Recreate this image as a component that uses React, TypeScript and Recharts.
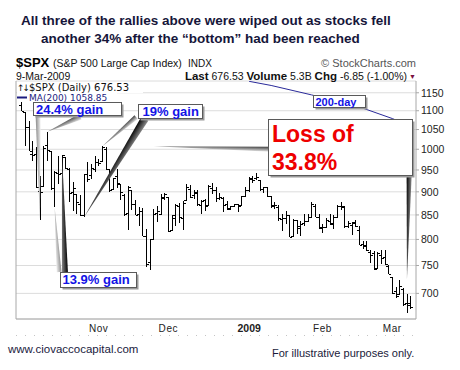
import { Bar, CartesianGrid, ComposedChart, Line, ReferenceLine, XAxis, YAxis } from 'recharts'

// trading days, 3-Oct-2008 .. 9-Mar-2009
const dates = [
  '2008-10-03', '2008-10-06', '2008-10-07', '2008-10-08', '2008-10-09', '2008-10-10', '2008-10-13', '2008-10-14', '2008-10-15', '2008-10-16',
  '2008-10-17', '2008-10-20', '2008-10-21', '2008-10-22', '2008-10-23', '2008-10-24', '2008-10-27', '2008-10-28', '2008-10-29', '2008-10-30', '2008-10-31',
  '2008-11-03', '2008-11-04', '2008-11-05', '2008-11-06', '2008-11-07', '2008-11-10', '2008-11-11', '2008-11-12', '2008-11-13', '2008-11-14',
  '2008-11-17', '2008-11-18', '2008-11-19', '2008-11-20', '2008-11-21', '2008-11-24', '2008-11-25', '2008-11-26', '2008-11-28',
  '2008-12-01', '2008-12-02', '2008-12-03', '2008-12-04', '2008-12-05', '2008-12-08', '2008-12-09', '2008-12-10', '2008-12-11', '2008-12-12',
  '2008-12-15', '2008-12-16', '2008-12-17', '2008-12-18', '2008-12-19', '2008-12-22', '2008-12-23', '2008-12-24', '2008-12-26', '2008-12-29', '2008-12-30', '2008-12-31',
  '2009-01-02', '2009-01-05', '2009-01-06', '2009-01-07', '2009-01-08', '2009-01-09', '2009-01-12', '2009-01-13', '2009-01-14', '2009-01-15',
  '2009-01-16', '2009-01-20', '2009-01-21', '2009-01-22', '2009-01-23', '2009-01-26', '2009-01-27', '2009-01-28', '2009-01-29', '2009-01-30',
  '2009-02-02', '2009-02-03', '2009-02-04', '2009-02-05', '2009-02-06', '2009-02-09', '2009-02-10', '2009-02-11', '2009-02-12', '2009-02-13',
  '2009-02-17', '2009-02-18', '2009-02-19', '2009-02-20', '2009-02-23', '2009-02-24', '2009-02-25', '2009-02-26', '2009-02-27',
  '2009-03-02', '2009-03-03', '2009-03-04', '2009-03-05', '2009-03-06', '2009-03-09',
]

const opens = [
  1115.2, 1097.6, 1057.0, 988.9, 988.4, 902.3, 912.8, 1009.97, 994.5, 909.5, 942.3, 943.5, 980.4, 951.7, 899.1, 895.1, 874.3, 848.9, 939.5, 939.4, 953.1,
  968.7, 971.3, 1001.8, 951.2, 907.4, 936.8, 917.0, 893.4, 853.1, 904.0, 873.2, 852.3, 859.0, 805.9, 755.8, 801.2, 853.4, 852.9, 886.9,
  888.6, 817.9, 843.6, 869.8, 844.4, 883.0, 906.5, 892.2, 898.4, 871.8, 881.1, 871.5, 908.2, 905.0, 886.96, 887.2, 874.3, 863.9, 869.5, 872.4, 870.6, 890.6,
  902.99, 929.2, 931.2, 927.5, 905.7, 909.9, 890.4, 869.8, 867.3, 841.99, 844.45, 849.6, 806.8, 839.7, 822.2, 832.5, 837.3, 845.7, 868.9, 845.7,
  823.1, 825.7, 837.8, 831.8, 846.1, 868.2, 866.9, 827.4, 829.9, 833.95, 818.6, 791.1, 787.9, 775.9, 773.25, 744.7, 770.6, 765.8, 749.9,
  729.6, 704.4, 699.0, 708.3, 684.0, 680.8,
]

const highs = [
  1153.8, 1097.6, 1072.9, 1021.1, 1005.3, 936.4, 1006.9, 1044.3, 994.5, 948.0, 984.4, 985.4, 980.4, 955.05, 922.8, 896.1, 893.8, 940.5, 969.97, 963.2, 984.4,
  975.1, 1007.5, 1005.4, 951.4, 931.8, 951.95, 917.1, 896.2, 913.0, 904.1, 882.3, 865.9, 864.6, 820.5, 801.2, 862.1, 868.9, 896.25, 896.8,
  888.6, 850.5, 873.1, 875.6, 879.4, 918.6, 916.3, 905.0, 904.6, 882.2, 884.7, 914.7, 918.9, 911.0, 897.8, 887.9, 880.4, 869.8, 873.0, 873.7, 891.1, 910.3,
  934.7, 936.6, 943.85, 927.5, 910.0, 911.9, 890.4, 877.0, 871.8, 851.6, 858.1, 849.6, 841.7, 839.7, 838.2, 852.5, 852.5, 877.9, 874.1, 851.6,
  830.8, 842.6, 851.85, 850.55, 870.75, 877.0, 868.05, 838.2, 835.9, 839.4, 826.8, 796.2, 797.6, 778.9, 777.5, 775.5, 780.1, 779.4, 751.3,
  729.6, 711.7, 724.1, 708.9, 699.6, 695.3,
]

const lows = [
  1098.1, 1007.97, 996.2, 970.97, 909.2, 839.8, 912.8, 972.1, 903.99, 865.8, 918.7, 943.0, 952.5, 877.0, 858.4, 852.9, 846.8, 845.3, 922.3, 928.9, 944.6,
  958.6, 971.0, 949.9, 899.7, 906.9, 907.5, 882.3, 848.6, 818.7, 859.4, 848.98, 826.8, 806.2, 747.8, 741.0, 798.0, 834.99, 852.0, 881.2,
  815.7, 817.9, 827.6, 833.99, 818.4, 883.0, 885.4, 883.5, 868.7, 851.4, 857.7, 868.6, 895.9, 877.4, 882.6, 857.1, 860.1, 861.4, 866.8, 857.1, 870.6, 889.9,
  899.35, 919.5, 927.3, 902.4, 896.8, 888.3, 864.3, 862.0, 836.9, 817.0, 830.7, 804.5, 804.3, 811.3, 806.1, 827.7, 834.5, 845.7, 844.9, 821.7,
  812.9, 821.98, 829.2, 819.9, 845.4, 860.7, 822.99, 822.1, 808.1, 825.2, 789.1, 780.4, 777.0, 754.3, 742.4, 743.3, 752.9, 751.75, 734.5,
  699.7, 692.3, 698.98, 677.9, 666.8, 672.9,
]

const closes = [
  1099.2, 1056.9, 996.2, 984.9, 909.9, 899.2, 1003.4, 998.0, 907.8, 946.4, 940.6, 985.4, 955.05, 896.8, 908.1, 876.8, 848.9, 940.5, 930.1, 954.1, 968.75,
  966.3, 1005.75, 952.8, 904.9, 930.99, 919.2, 898.95, 852.3, 911.3, 873.3, 850.75, 859.1, 806.6, 752.4, 800.0, 851.8, 857.4, 887.7, 896.2,
  816.2, 848.8, 870.7, 845.2, 876.1, 909.7, 888.7, 899.2, 873.6, 879.7, 868.6, 913.2, 904.4, 885.3, 887.9, 871.6, 863.2, 868.15, 872.8, 869.4, 890.6, 903.25,
  931.8, 927.45, 934.7, 906.65, 909.7, 890.35, 870.3, 871.8, 842.6, 843.7, 850.1, 805.2, 840.2, 827.5, 831.95, 836.6, 845.7, 874.1, 845.1, 825.9,
  825.4, 838.5, 832.2, 845.85, 868.6, 869.9, 827.2, 833.7, 835.2, 826.8, 789.2, 788.4, 778.9, 770.05, 743.3, 773.1, 764.9, 752.8, 735.1,
  700.8, 696.3, 712.9, 682.55, 683.4, 676.53,
]

// 200-day moving average (enters the panel at its top edge)
const maDates = ['2009-01-02', '2009-01-12', '2009-01-28', '2009-02-18', '2009-03-02', '2009-03-09']
const maValues = [1183, 1171, 1144, 1107, 1079, 1058.85]

const priceTicks = [700, 750, 800, 850, 900, 950, 1000, 1050, 1100, 1150]
const monthNames = ['2009', 'Feb', 'Mar', 'Apr', 'May', 'Jun', 'Jul', 'Aug', 'Sep', 'Oct', 'Nov', 'Dec']

const day = (s: string) => new Date(s + 'T00:00:00Z')

const rows = dates.map((d, i) => {
  const k = maDates.indexOf(d)
  return {
    i,
    range: [lows[i], highs[i]],
    open: opens[i],
    high: highs[i],
    low: lows[i],
    close: closes[i],
    ma: k >= 0 ? maValues[k] : null,
  }
})

const idx = dates.map((_, i) => i)
const monthStarts = idx.filter((i) => i > 0 && day(dates[i]).getUTCMonth() !== day(dates[i - 1]).getUTCMonth())
const weekStarts = idx.filter((i) => i > 0 && day(dates[i]).getUTCDay() <= day(dates[i - 1]).getUTCDay())

const xDomain = [-1.53, 107.47]
const FONT = '"Liberation Sans", Arial, sans-serif'

// callout pointers: tip on a bar, base under a label box (data coords)
const pointers = [
  { id: 'w1', tip: { x: 5, y: lows[5] }, base: { x: 4.5, y: 1086 }, w: 5, tone: 'light' },
  { id: 'w2', tip: { x: 7, y: highs[7] }, base: { x: 16, y: 1084 }, w: 6, tone: 'mid' },
  { id: 'w3', tip: { x: 22, y: highs[22] }, base: { x: 31.2, y: 1083 }, w: 5, tone: 'mid' },
  { id: 'w4', tip: { x: 17, y: lows[17] }, base: { x: 33.6, y: 1079 }, w: 8, tone: 'dark' },
  { id: 'w5', tip: { x: 9, y: lows[9] }, base: { x: 10.2, y: 738 }, w: 5, tone: 'light' },
  { id: 'w6', tip: { x: 11, y: highs[11] }, base: { x: 11.8, y: 738 }, w: 6, tone: 'dark' },
  { id: 'w7', tip: { x: 36, y: highs[22] }, base: { x: 68, y: 1000 }, w: 5, tone: 'mid' },
  { id: 'w8', tip: { x: 105, y: 725 }, base: { x: 105.6, y: 935 }, w: 5, tone: 'dark' },
]

const tones: Record<string, string[]> = {
  light: ['#8c8c8c', '#f4f4f4'],
  mid: ['#3c3c3c', '#e4e4e4'],
  dark: ['#000000', '#8a8a8a'],
}

function Wedge(props: any) {
  const { x1, y1, x2, y2, w, tone, gid } = props
  const dx = x2 - x1
  const dy = y2 - y1
  const len = Math.hypot(dx, dy) || 1
  const nx = ((-dy / len) * w) / 2
  const ny = ((dx / len) * w) / 2
  const [c0, c1] = tones[tone]
  return (
    <g>
      <defs>
        <linearGradient id={gid} gradientUnits="userSpaceOnUse" x1={x2 - nx} y1={y2 - ny} x2={x2 + nx} y2={y2 + ny}>
          <stop offset="0" stopColor={c0} />
          <stop offset="1" stopColor={c1} />
        </linearGradient>
      </defs>
      <polygon points={`${x1},${y1} ${x2 - nx},${y2 - ny} ${x2 + nx},${y2 + ny}`} fill={`url(#${gid})`} />
    </g>
  )
}

function OhlcBar(props: any) {
  const { x, y, width, height, payload } = props
  if (!payload || !Number.isFinite(y) || !Number.isFinite(height)) return null
  const cx = Math.round(x + width / 2) + 0.5
  const top = Math.log(payload.high)
  const span = top - Math.log(payload.low) || 1
  const at = (v: number) => Math.round(y + (height * (top - Math.log(v))) / span) + 0.5
  return (
    <g stroke="#000" strokeWidth={1} shapeRendering="crispEdges">
      <line x1={cx} x2={cx} y1={y} y2={y + height} strokeWidth={1.4} />
      <line x1={cx - 2.5} x2={cx} y1={at(payload.open)} y2={at(payload.open)} />
      <line x1={cx} x2={cx + 2.5} y1={at(payload.close)} y2={at(payload.close)} />
    </g>
  )
}

function MonthTick(props: any) {
  const { x, y, payload } = props
  const label = monthNames[day(dates[payload.value]).getUTCMonth()]
  const bold = label === '2009'
  return (
    <text x={x} y={y + 9.5} textAnchor="middle" fontSize={bold ? 10.5 : 10} fontWeight={bold ? 700 : 400}
      fill="#222" fontFamily={FONT} letterSpacing={bold ? 0 : 0.6}>
      {label}
    </text>
  )
}

function Box({ x, y, w, h }: { x: number; y: number; w: number; h: number }) {
  return (
    <g>
      <rect x={x + 2} y={y + 2} width={w} height={h} fill="#9a9a9a" />
      <rect x={x} y={y} width={w} height={h} fill="#fff" stroke="#5a5a5a" strokeWidth={1} />
    </g>
  )
}

function Overlay() {
  const blue = '#1212e6'
  return (
    <svg width={460} height={370} style={{ position: 'absolute', left: 0, top: 0, pointerEvents: 'none' }} fontFamily={FONT}>
      <text x={21} y={25} fontSize={13.5} fontWeight={700} fill="#16163a">
        All three of the rallies above were wiped out as stocks fell
      </text>
      <text x={41} y={43.3} fontSize={13.5} fontWeight={700} fill="#16163a">
        another 34% after the “bottom” had been reached
      </text>

      <text x={16} y={67} fontSize={13} fontWeight={700} fill="#000">$SPX</text>
      <text x={53} y={67} fontSize={10.5} fill="#111">(S&amp;P 500 Large Cap Index)</text>
      <text x={188} y={67} fontSize={10} fill="#111">INDX</text>
      <text x={416} y={67} fontSize={11} fill="#555" textAnchor="end">© StockCharts.com</text>
      <text x={16} y={79.5} fontSize={10.5} fill="#111">9-Mar-2009</text>
      <text x={407} y={79.5} textAnchor="end" fill="#111">
        <tspan fontSize={11.5} fontWeight={700}>Last</tspan>
        <tspan fontSize={10.5}> 676.53  </tspan>
        <tspan fontSize={11.5} fontWeight={700}>Volume</tspan>
        <tspan fontSize={10.5}> 5.3B  </tspan>
        <tspan fontSize={11.5} fontWeight={700}>Chg</tspan>
        <tspan fontSize={10.5}> -6.85 (-1.00%)</tspan>
      </text>
      <text x={409} y={79} fontSize={7} fill="#7a1040">▼</text>

      <rect x={17} y={83} width={126} height={10} fill="#fff" />
      <rect x={17} y={93} width={100} height={9} fill="#fff" />
      <text x={17} y={91} fontSize={9} fill="#111" fontFamily='"DejaVu Sans", sans-serif' letterSpacing={-2}>↑↓</text>
      <text x={29} y={91} fontSize={10} fill="#111" fontFamily='"DejaVu Sans", sans-serif'>$SPX (Daily) 676.53</text>
      <line x1={17} x2={27} y1={97.5} y2={97.5} stroke="#1c1c80" strokeWidth={2} />
      <text x={29} y={100.5} fontSize={9} fill="#1c1c80" fontFamily='"DejaVu Sans", sans-serif'>MA(200) 1058.85</text>

      <Box x={33.5} y={102.5} w={88} h={13} />
      <text x={36} y={113.5} fontSize={13} fontWeight={700} fill={blue}>24.4% gain</text>

      <Box x={138.5} y={104.5} w={64} h={14} />
      <text x={142.5} y={115.5} fontSize={13} fontWeight={700} fill={blue}>19% gain</text>

      <Box x={60.5} y={272.5} w={76} h={15} />
      <text x={62.5} y={284} fontSize={13} fontWeight={700} fill={blue}>13.9% gain</text>

      <Box x={313.5} y={95.5} w={52} h={12} />
      <text x={315.5} y={105.5} fontSize={11} fontWeight={700} fill={blue}>200-day</text>

      <Box x={268.5} y={119.5} w={144} h={56} />
      <text x={272} y={141.7} fontSize={23} fontWeight={700} fill="#ee0000">Loss of</text>
      <text x={272} y={170} fontSize={23} fontWeight={700} fill="#ee0000">33.8%</text>

      <line x1={16} x2={416} y1={335.5} y2={335.5} stroke="#c4c4c4" strokeDasharray="1 8" />
      <text x={8} y={352.5} fontSize={11.5} fill="#1a1a40">www.ciovaccocapital.com</text>
      <text x={272} y={356.7} fontSize={11} fill="#1a1a3a">For illustrative purposes only.</text>
    </svg>
  )
}

const scaleOf = (axis: any) => (axis && typeof axis.scale === 'function' ? axis.scale : null)

export default function App() {
  return (
    <div style={{ position: 'absolute', left: 0, top: 0, width: 460, height: 370, background: '#fff', overflow: 'hidden' }}>
      <ComposedChart width={460} height={370} data={rows} margin={{ top: 81, right: 0, bottom: 31, left: 16 }}>
        <CartesianGrid
          stroke="#dcdcdc"
          verticalCoordinatesGenerator={({ xAxis }: any) => {
            const s = scaleOf(xAxis)
            return s ? weekStarts.filter((i) => !monthStarts.includes(i)).map((i) => s(i)) : []
          }}
        />
        <CartesianGrid
          stroke="#b2b2b2"
          horizontal={false}
          verticalCoordinatesGenerator={({ xAxis }: any) => {
            const s = scaleOf(xAxis)
            return s ? monthStarts.map((i) => s(i)) : []
          }}
        />
        <XAxis
          dataKey="i"
          type="number"
          domain={xDomain}
          allowDataOverflow
          ticks={monthStarts}
          interval={0}
          tick={<MonthTick />}
          tickLine={false}
          tickSize={0}
          tickMargin={3}
          height={20}
          axisLine={{ stroke: '#a8a8a8' }}
        />
        <YAxis
          orientation="right"
          scale="log"
          domain={[657, 1184]}
          allowDataOverflow
          ticks={priceTicks}
          interval={0}
          width={44}
          tickSize={3}
          tickMargin={2}
          tick={{ fontSize: 10.5, fill: '#222', fontFamily: FONT }}
          axisLine={{ stroke: '#a8a8a8' }}
          tickLine={{ stroke: '#a8a8a8' }}
        />
        <ReferenceLine x={xDomain[0]} stroke="#a8a8a8" />
        <Line dataKey="ma" stroke="#2a2a9a" strokeWidth={1} dot={false} activeDot={false} connectNulls isAnimationActive={false} />
        <Bar dataKey="range" barSize={3} shape={<OhlcBar />} isAnimationActive={false} />
        {pointers.map((p) => (
          <ReferenceLine
            key={p.id}
            segment={[p.tip, p.base]}
            ifOverflow="visible"
            shape={(lp: any) => <Wedge {...lp} w={p.w} tone={p.tone} gid={p.id} />}
          />
        ))}
      </ComposedChart>
      <Overlay />
    </div>
  )
}
